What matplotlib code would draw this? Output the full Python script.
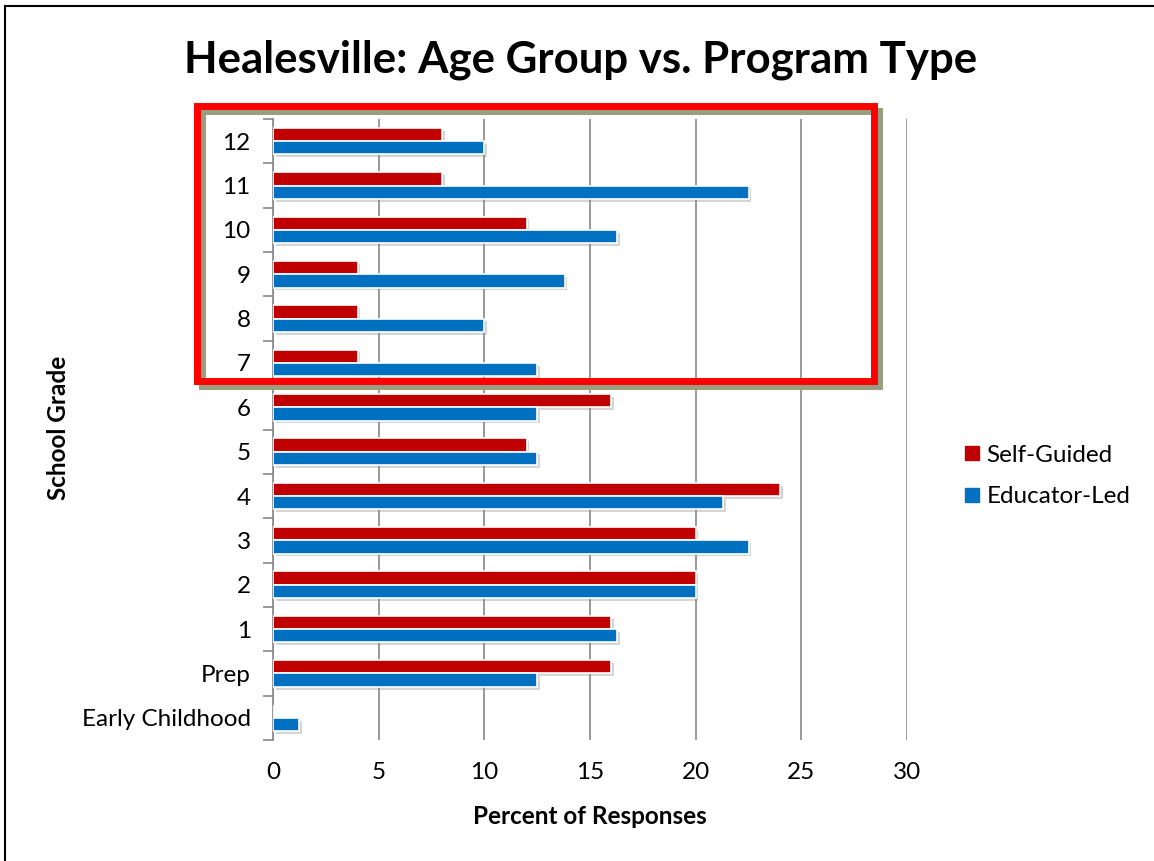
import matplotlib
matplotlib.use('Agg')
import matplotlib.pyplot as plt
import matplotlib.patheffects as pe
from matplotlib.patches import Rectangle
from matplotlib.lines import Line2D
import numpy as np

plt.rcParams['font.family'] = ['Lato', 'DejaVu Sans']

grades = ['Early Childhood', 'Prep', '1', '2', '3', '4', '5', '6', '7', '8', '9', '10', '11', '12']
self_guided = [0, 16, 16, 20, 20, 24, 12, 16, 4, 4, 4, 12, 8, 8]
educator_led = [1.25, 12.5, 16.3, 20, 22.5, 21.3, 12.5, 12.5, 12.5, 10, 13.8, 16.3, 22.5, 10]

red = '#C00000'
blue = '#0070C0'

fig = plt.figure(figsize=(11.54, 8.61), dpi=100)
ax = fig.add_axes([273 / 1154, 1 - 740 / 861, 634 / 1154, 621 / 861])

y = np.arange(len(grades))
h = 0.3
shadow = [pe.SimplePatchShadow(offset=(2, -2), shadow_rgbFace='#888888', alpha=0.35), pe.Normal()]
b1 = ax.barh(y + h / 2, self_guided, height=h, color=red, edgecolor='white', linewidth=1.2, zorder=3)
b2 = ax.barh(y - h / 2, educator_led, height=h, color=blue, edgecolor='white', linewidth=1.2, zorder=3)
for bars in (b1, b2):
    for b in bars:
        if b.get_width() > 0:
            b.set_path_effects(shadow)

ax.set_xlim(0, 30)
ax.set_ylim(-0.5, len(grades) - 0.5)
ax.set_xticks(range(0, 31, 5))
ax.set_yticks(y)
ax.set_yticklabels(grades)
ax.set_yticks(np.arange(-0.5, len(grades), 1), minor=True)
ax.tick_params(axis='y', which='major', length=0, labelsize=17.5, pad=16)
ax.tick_params(axis='y', which='minor', length=7, color='#888888', width=1.2)
ax.tick_params(axis='x', length=0, labelsize=17.5, pad=16)
ax.xaxis.grid(True, color='#888888', linewidth=1.2, zorder=0)
ax.set_axisbelow(True)
for s in ('top', 'right', 'bottom'):
    ax.spines[s].set_visible(False)
ax.spines['left'].set_color('#888888')
ax.spines['left'].set_linewidth(1.2)

ax.set_xlabel('Percent of Responses', fontsize=17.5, fontweight='bold', labelpad=16)
fig.text(58 / 1154, 1 - 428 / 861, 'School Grade', rotation=90, fontsize=17.5,
         fontweight='bold', ha='center', va='center')
fig.text(581 / 1154, 1 - 60 / 861, 'Healesville: Age Group vs. Program Type',
         fontsize=31.5, fontweight='bold', ha='center', va='center')

handles = [Line2D([], [], marker='s', linestyle='none', markersize=10, color=red),
           Line2D([], [], marker='s', linestyle='none', markersize=10, color=blue)]
fig.legend(handles, ['Self-Guided', 'Educator-Led'], loc='center left',
           bbox_to_anchor=(938 / 1154, 1 - 476 / 861), frameon=False, fontsize=17.5,
           handletextpad=0.1, labelspacing=0.85, handlelength=1.0)

# highlight box with shadow
W, H = 1154, 861
box_shadow = Rectangle((202 / W, 1 - 386 / H), 677 / W, 275 / H, transform=fig.transFigure,
                       fill=False, edgecolor='#9A9D80', linewidth=5, zorder=9)
box = Rectangle((197 / W, 1 - 381 / H), 677 / W, 275 / H, transform=fig.transFigure,
                fill=False, edgecolor='#FF0000', linewidth=5, zorder=10)
fig.patches.extend([box_shadow, box])

# partial frame (top and left)
fig.add_artist(Line2D([5 / W, 5 / W], [0, 1 - 6 / H], transform=fig.transFigure, color='black', linewidth=1.5))
fig.add_artist(Line2D([5 / W, 1], [1 - 6 / H, 1 - 6 / H], transform=fig.transFigure, color='black', linewidth=1.5))

fig.savefig('out.png', dpi=100, facecolor='white')
